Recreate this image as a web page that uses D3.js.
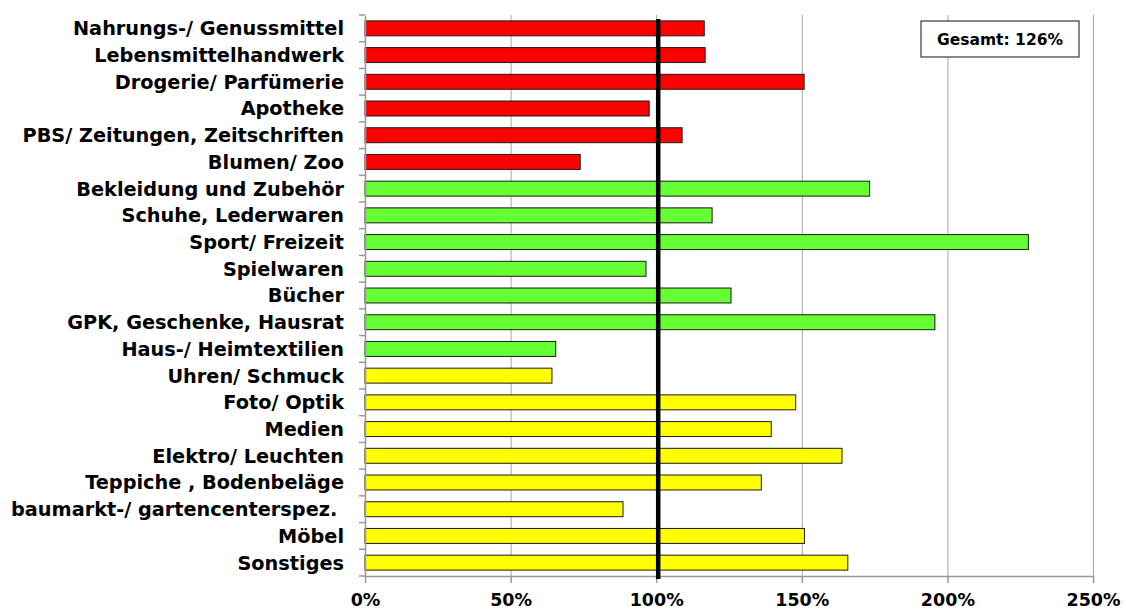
<!DOCTYPE html>
<html>
<head>
<meta charset="utf-8">
<script src="https://cdn.jsdelivr.net/npm/d3@7"></script>
<style>
  html, body { margin: 0; padding: 0; background: #fff; }
  svg { display: block; }
  .ylab text { white-space: pre; }
</style>
</head>
<body>
<svg id="chart" width="1126" height="612"></svg>
<script>
const categories = [
  "Nahrungs-/ Genussmittel", "Lebensmittelhandwerk", "Drogerie/ Parfümerie", "Apotheke",
  "PBS/ Zeitungen, Zeitschriften", "Blumen/ Zoo", "Bekleidung und Zubehör", "Schuhe, Lederwaren",
  "Sport/ Freizeit", "Spielwaren", "Bücher", "GPK, Geschenke, Hausrat", "Haus-/ Heimtextilien",
  "Uhren/ Schmuck", "Foto/ Optik", "Medien", "Elektro/ Leuchten", "Teppiche , Bodenbeläge",
  "baumarkt-/ gartencenterspez. ", "Möbel", "Sonstiges"
];
const values = [116.5, 116.8, 150.8, 97.6, 108.9, 73.9, 173.3, 119.2, 227.8, 96.5, 125.7, 195.7, 65.5,
  64.2, 147.9, 139.5, 163.8, 136.1, 88.6, 150.9, 165.8];
const groups = ["nah", "nah", "nah", "nah", "nah", "nah", "mittel", "mittel", "mittel", "mittel", "mittel", "mittel", "mittel",
  "lang", "lang", "lang", "lang", "lang", "lang", "lang", "lang"];
const groupColors = { nah: "#ff0000", mittel: "#66ff33", lang: "#ffff00" };
const xTicks = [0, 50, 100, 150, 200, 250];
const referenceValue = 100;
const totalLabel = "Gesamt: 126%";

const svg = d3.select("#chart");
const font = "'DejaVu Sans', Verdana, sans-serif";

const x = d3.scaleLinear().domain([0, 250]).range([365, 1093]);
const y = d3.scaleBand().domain(categories).range([15, 576]).paddingInner(0.44).paddingOuter(0.22);

// gridlines
svg.append("g").selectAll("line").data(xTicks.slice(1)).join("line")
  .attr("x1", d => x(d) + 0.5).attr("x2", d => x(d) + 0.5)
  .attr("y1", 15).attr("y2", 576)
  .attr("stroke", "#a6a6a6").attr("stroke-width", 1);

// bars
svg.append("g").selectAll("rect").data(values).join("rect")
  .attr("x", x(0))
  .attr("y", (d, i) => y(categories[i]))
  .attr("width", d => x(d) - x(0))
  .attr("height", y.bandwidth())
  .attr("fill", (d, i) => groupColors[groups[i]])
  .attr("stroke", "#1a1a1a").attr("stroke-width", 1);

// y axis
const yAxis = d3.axisLeft(y).tickSize(0).tickPadding(21);
const gy = svg.append("g").attr("class", "ylab").attr("transform", `translate(${x(0)},0)`).call(yAxis);
gy.select(".domain").attr("stroke", "#999").attr("stroke-width", 1.5);
gy.selectAll("text").attr("font-family", font).attr("font-size", 19.3).attr("font-weight", "bold")
  .attr("fill", "#000").attr("dy", "0.36em");
// category boundary ticks
const boundaries = d3.range(categories.length + 1).map(i => 15 + i * (561 / categories.length));
svg.append("g").selectAll("line").data(boundaries).join("line")
  .attr("x1", x(0) - 6).attr("x2", x(0))
  .attr("y1", d => d).attr("y2", d => d)
  .attr("stroke", "#999").attr("stroke-width", 1.5);

// x axis
const xAxis = d3.axisBottom(x).tickValues(xTicks).tickFormat(d => d + "%").tickSize(7).tickSizeOuter(0).tickPadding(11);
const gx = svg.append("g").attr("transform", "translate(0,576)").call(xAxis);
gx.select(".domain").attr("stroke", "#999").attr("stroke-width", 1.5);
gx.selectAll(".tick line").attr("stroke", "#999").attr("stroke-width", 1.5);
gx.selectAll("text").attr("font-family", font).attr("font-size", 17.5).attr("font-weight", "bold").attr("fill", "#000");

// reference line
svg.append("line")
  .attr("x1", x(referenceValue) + 2).attr("x2", x(referenceValue) + 2)
  .attr("y1", 19).attr("y2", 579)
  .attr("stroke", "#000").attr("stroke-width", 4.5);

// total box
const bx = 921, by = 21, bw = 158, bh = 36;
svg.append("rect").attr("x", bx).attr("y", by).attr("width", bw).attr("height", bh)
  .attr("fill", "#fff").attr("stroke", "#111").attr("stroke-width", 1);
svg.append("text").attr("x", bx + bw / 2).attr("y", by + bh / 2).attr("dy", "0.36em")
  .attr("text-anchor", "middle").attr("font-family", font).attr("font-size", 15.5).attr("font-weight", "bold").attr("fill", "#000")
  .text(totalLabel);
</script>
</body>
</html>
